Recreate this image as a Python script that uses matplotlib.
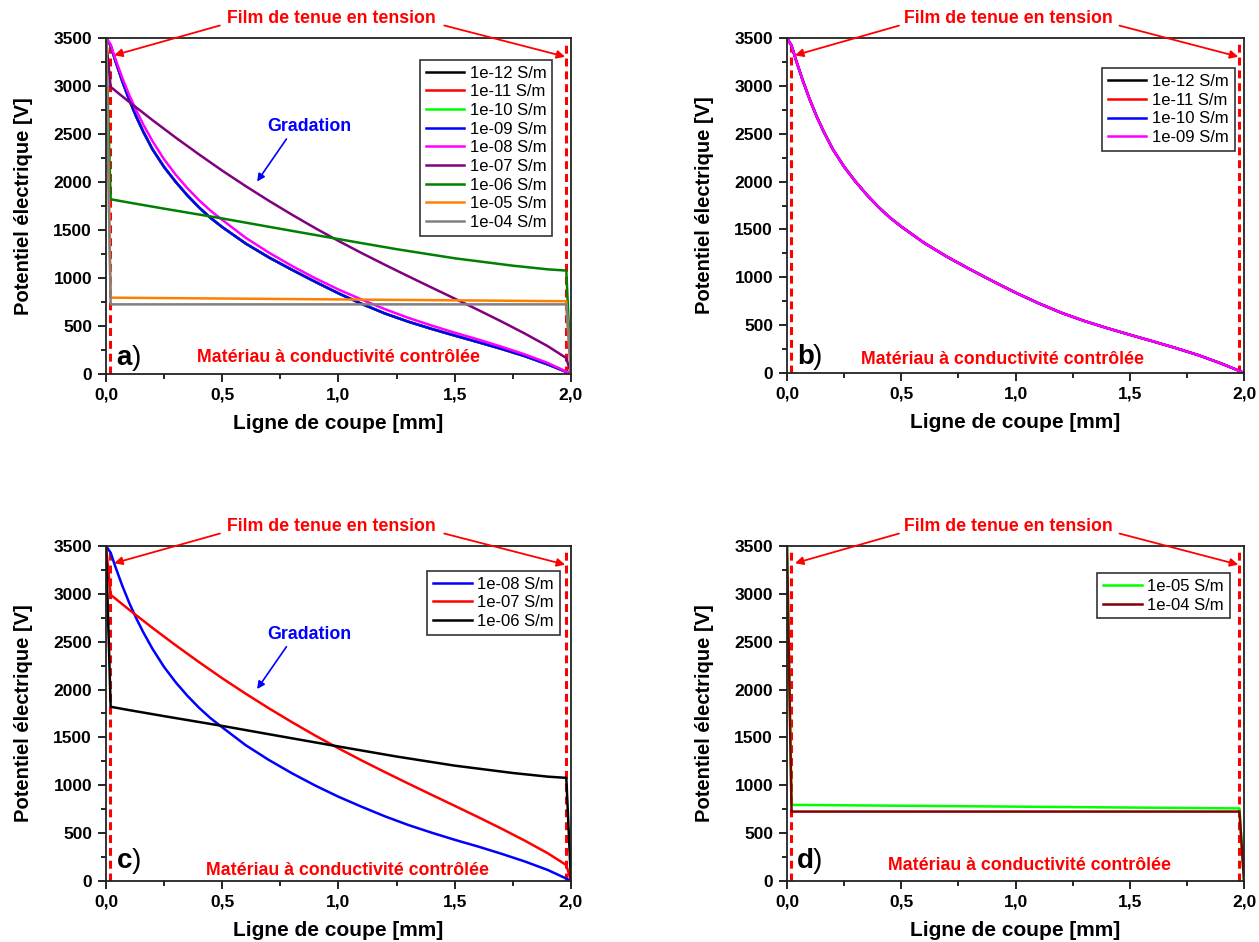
"""Potentiel électrique le long de la ligne de coupe pour différentes conductivités"""
import matplotlib
matplotlib.use('Agg')
import matplotlib.pyplot as plt
from matplotlib.ticker import MultipleLocator, FuncFormatter

plt.rcParams['font.family'] = ['Liberation Sans', 'DejaVu Sans']

# --- données (x en mm, potentiel en V) ---
x_fine = [0, 0.02, 0.04, 0.07, 0.1, 0.13, 0.16, 0.2, 0.25, 0.3, 0.35, 0.4, 0.45, 0.5,
          0.6, 0.7, 0.8, 0.9, 1.0, 1.1, 1.2, 1.3, 1.4, 1.5, 1.6, 1.7, 1.8, 1.9,
          1.98, 2.0]
# 1e-12 .. 1e-09 S/m : courbes confondues
v_low = [3500, 3420, 3265, 3050, 2855, 2680, 2525, 2340, 2155, 2000, 1860, 1735,
         1625, 1530, 1360, 1215, 1085, 960, 840, 730, 630, 545, 470, 400, 332,
         262, 187, 100, 22, 0]
v_1e08 = [3500, 3430, 3285, 3085, 2905, 2745, 2600, 2425, 2235, 2075, 1935, 1810,
          1700, 1605, 1420, 1265, 1125, 997, 880, 775, 675, 585, 505, 430, 360,
          285, 205, 115, 25, 0]

x_1e07 = [0, 0.02, 0.1, 0.2, 0.3, 0.4, 0.5, 0.6, 0.7, 0.8, 0.9, 1.0, 1.1, 1.2,
          1.3, 1.4, 1.5, 1.6, 1.7, 1.8, 1.9, 1.98, 2.0]
v_1e07 = [3500, 2990, 2833, 2644, 2462, 2287, 2118, 1958, 1805, 1659, 1519, 1386,
          1259, 1137, 1018, 901, 785, 668, 548, 423, 290, 166, 0]

x_1e06 = [0, 0.02, 0.1, 0.25, 0.5, 0.75, 1.0, 1.25, 1.5, 1.75, 1.9, 1.98, 2.0]
v_1e06 = [3500, 1820, 1785, 1722, 1620, 1512, 1405, 1300, 1205, 1128, 1090, 1077, 0]

x_flat = [0, 0.02, 1.98, 2.0]
v_1e05 = [3500, 795, 758, 0]
v_1e04 = [3500, 725, 725, 0]

labels = ['1e-12 S/m', '1e-11 S/m', '1e-10 S/m', '1e-09 S/m', '1e-08 S/m',
          '1e-07 S/m', '1e-06 S/m', '1e-05 S/m', '1e-04 S/m']


def comma(v, pos):
    return f'{v:.1f}'.replace('.', ',')


def decorate(ax, letter, mat_x, mat_y, letter_y, gradation=False):
    """axes, textes et flèches communs aux quatre graphes"""
    ax.set_xlim(0, 2)
    ax.set_ylim(0, 3500)
    ax.xaxis.set_major_locator(MultipleLocator(0.5))
    ax.xaxis.set_minor_locator(MultipleLocator(0.25))
    ax.yaxis.set_major_locator(MultipleLocator(500))
    ax.yaxis.set_minor_locator(MultipleLocator(250))
    ax.xaxis.set_major_formatter(FuncFormatter(comma))
    ax.tick_params(which='both', direction='out', width=1.2, labelsize=12.5, pad=4)
    ax.tick_params(which='major', length=6)
    ax.tick_params(which='minor', length=3.5)
    for lab in ax.get_xticklabels() + ax.get_yticklabels():
        lab.set_fontweight('bold')
    for sp in ax.spines.values():
        sp.set_linewidth(1.3)
        sp.set_color('#222222')
    ax.set_xlabel('Ligne de coupe [mm]', fontsize=15, fontweight='bold', labelpad=8)
    ax.set_ylabel('Potentiel électrique [V]', fontsize=14.5, fontweight='bold', labelpad=15)

    # limites du film
    for xv in (0.019, 1.98):
        ax.axvline(xv, ymax=0.99, color='red', lw=2.2, dashes=(2.6, 1.6), zorder=1)

    # film de tenue en tension
    ax.text(0.97, 3700, 'Film de tenue en tension', color='red', fontsize=12.8,
            fontweight='bold', ha='center', va='center', clip_on=False)
    arrow = dict(arrowstyle='-|>', color='red', lw=1.3, mutation_scale=12, shrinkA=0, shrinkB=0)
    ax.annotate('', xy=(0.035, 3320), xytext=(0.49, 3630), arrowprops=arrow,
                annotation_clip=False)
    ax.annotate('', xy=(1.975, 3305), xytext=(1.455, 3630), arrowprops=arrow,
                annotation_clip=False)

    ax.text(mat_x, mat_y, 'Matériau à conductivité contrôlée', color='red', fontsize=12.8,
            fontweight='bold', ha='center', va='baseline')
    ax.text(0.045, letter_y, letter, fontsize=20, fontweight='bold', va='baseline')
    ax.text(0.045 + 0.068, letter_y, ')', fontsize=20, va='baseline')

    if gradation:
        ax.text(0.873, 2580, 'Gradation', color='blue', fontsize=12.8, fontweight='bold',
                ha='center', va='center')
        ax.annotate('', xy=(0.65, 2005), xytext=(0.776, 2447),
                    arrowprops=dict(arrowstyle='-|>', color='blue', lw=1.2,
                                    mutation_scale=11, shrinkA=0, shrinkB=0))


def legend(ax, anchor):
    leg = ax.legend(loc='upper right', bbox_to_anchor=anchor, fontsize=12, fancybox=False,
                    framealpha=1, edgecolor='#333333', handlelength=2.3, handletextpad=0.35,
                    labelspacing=0.22, borderpad=0.35, borderaxespad=0)
    leg.get_frame().set_linewidth(1.2)


fig = plt.figure(figsize=(12.59, 9.42), dpi=100)
lw = 1.8

# a) toutes les conductivités
ax = fig.add_axes([0.0842, 0.6030, 0.3693, 0.3567])
ax.plot(x_fine, v_low, color='black', lw=lw, label=labels[0])
ax.plot(x_fine, v_low, color='red', lw=lw, label=labels[1])
ax.plot(x_fine, v_low, color='#00ff00', lw=lw, label=labels[2])
ax.plot(x_fine, v_low, color='blue', lw=lw, label=labels[3])
ax.plot(x_fine, v_1e08, color='magenta', lw=lw, label=labels[4])
ax.plot(x_1e07, v_1e07, color='#800080', lw=lw, label=labels[5])
ax.plot(x_1e06, v_1e06, color='#008000', lw=lw, label=labels[6])
ax.plot(x_flat, v_1e05, color='#ff8000', lw=lw, label=labels[7])
ax.plot(x_flat, v_1e04, color='#808080', lw=lw, label=labels[8])
decorate(ax, 'a', 1.0, 125, 94, gradation=True)
legend(ax, (0.96, 0.935))

# b) faibles conductivités
ax = fig.add_axes([0.6251, 0.6040, 0.3630, 0.3556])
ax.plot(x_fine, v_low, color='black', lw=lw, label=labels[0])
ax.plot(x_fine, v_low, color='red', lw=lw, label=labels[1])
ax.plot(x_fine, v_low, color='blue', lw=lw, label=labels[2])
ax.plot(x_fine, v_low, color='magenta', lw=lw, label=labels[3])
decorate(ax, 'b', 0.945, 94, 94)
legend(ax, (0.98, 0.91))

# c) conductivités intermédiaires
ax = fig.add_axes([0.0842, 0.0648, 0.3693, 0.3556])
ax.plot(x_fine, v_1e08, color='blue', lw=lw, label=labels[4])
ax.plot(x_1e07, v_1e07, color='red', lw=lw, label=labels[5])
ax.plot(x_1e06, v_1e06, color='black', lw=lw, label=labels[6])
decorate(ax, 'c', 1.04, 63, 136, gradation=True)
legend(ax, (0.976, 0.926))

# d) fortes conductivités
ax = fig.add_axes([0.6251, 0.0648, 0.3630, 0.3556])
ax.plot(x_flat, v_1e05, color='#00ff00', lw=lw, label=labels[7])
ax.plot(x_flat, v_1e04, color='#800000', lw=lw, label=labels[8])
decorate(ax, 'd', 1.06, 115, 136)
legend(ax, (0.969, 0.919))

fig.savefig('out.png', dpi=100)
